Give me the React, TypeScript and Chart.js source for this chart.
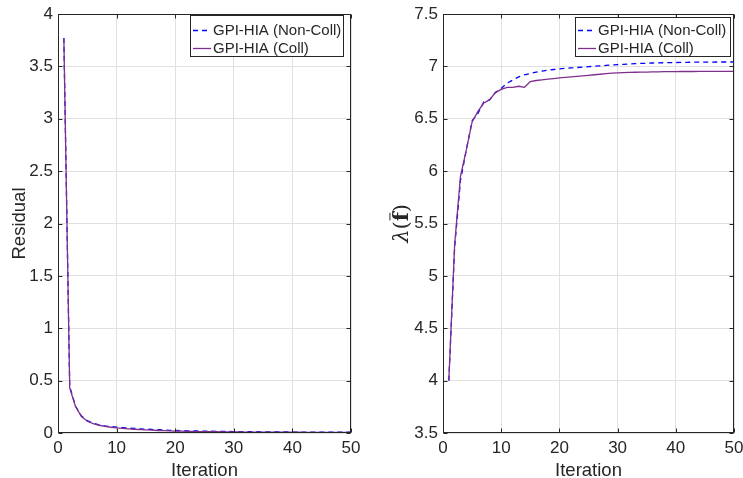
import React, { useEffect, useRef } from "react";
import { Chart, registerables } from "chart.js";

Chart.register(...registerables);

// ---------------- data ----------------
const seriesNames = ["GPI-HIA (Non-Coll)", "GPI-HIA (Coll)"];
const xTicks = [0, 10, 20, 30, 40, 50];
const residualTicks = [0, 0.5, 1, 1.5, 2, 2.5, 3, 3.5, 4];
const lambdaTicks = [3.5, 4, 4.5, 5, 5.5, 6, 6.5, 7, 7.5];

const residualNonColl = [
  3.77, 0.445, 0.255, 0.162, 0.118, 0.093, 0.078, 0.068, 0.061, 0.056,
  0.052, 0.048, 0.044, 0.04, 0.037, 0.034, 0.031, 0.028, 0.026, 0.024,
  0.022, 0.021, 0.02, 0.019, 0.018, 0.017, 0.016, 0.015, 0.015, 0.014,
  0.013, 0.013, 0.012, 0.012, 0.011, 0.011, 0.01, 0.01, 0.01, 0.009,
  0.009, 0.009, 0.008, 0.008, 0.008, 0.008, 0.007, 0.007, 0.007, 0.007,
];
const residualColl = [
  3.77, 0.43, 0.25, 0.158, 0.112, 0.089, 0.074, 0.063, 0.055, 0.048,
  0.044, 0.04, 0.036, 0.033, 0.03, 0.027, 0.024, 0.022, 0.02, 0.018,
  0.017, 0.016, 0.015, 0.014, 0.013, 0.012, 0.012, 0.011, 0.011, 0.01,
  0.01, 0.009, 0.009, 0.009, 0.008, 0.008, 0.008, 0.007, 0.007, 0.007,
  0.007, 0.006, 0.006, 0.006, 0.006, 0.006, 0.005, 0.005, 0.005, 0.005,
];
const lambdaNonColl = [
  4.0, 5.27, 5.91, 6.2, 6.48, 6.55, 6.66, 6.68, 6.75, 6.79,
  6.84, 6.87, 6.9, 6.92, 6.932, 6.945, 6.955, 6.963, 6.97, 6.976,
  6.981, 6.985, 6.989, 6.993, 6.997, 7.001, 7.005, 7.009, 7.013, 7.017,
  7.02, 7.023, 7.026, 7.028, 7.03, 7.032, 7.034, 7.035, 7.036, 7.037,
  7.038, 7.039, 7.04, 7.04, 7.041, 7.041, 7.042, 7.042, 7.042, 7.042,
];
const lambdaColl = [
  4.0, 5.3, 5.95, 6.2, 6.47, 6.57, 6.65, 6.68, 6.75, 6.78,
  6.8, 6.8, 6.81, 6.8, 6.855, 6.865, 6.872, 6.878, 6.884, 6.89,
  6.895, 6.9, 6.905, 6.91, 6.915, 6.92, 6.925, 6.93, 6.935, 6.938,
  6.94, 6.942, 6.944, 6.945, 6.946, 6.947, 6.948, 6.949, 6.95, 6.95,
  6.951, 6.951, 6.951, 6.952, 6.952, 6.952, 6.952, 6.952, 6.952, 6.952,
];

// ---------------- styles ----------------
const FONT = "'Liberation Sans', Arial, Helvetica, sans-serif";
const SERIF = "'DejaVu Serif', 'Liberation Serif', serif";
const INK = "#262626";
const GRID = "#e0e0e0";
const BLUE = "#0000ff";
const PURPLE = "#7e2f8e";
const DASH = [5, 4];
const H = 478;

const toPoints = (vals: number[]) => vals.map((v, i) => ({ x: i + 1, y: v }));

const framePlugin = {
  id: "matlabFrame",
  afterDraw(chart: any, _a: any, opts: any) {
    const ctx = chart.ctx as CanvasRenderingContext2D;
    const { left, right, top, bottom } = chart.chartArea;
    const xs = chart.scales.x;
    const ys = chart.scales.y;
    const L = Math.round(left) + 0.5;
    const R = Math.round(right) - 0.5;
    const T = Math.round(top) + 0.5;
    const B = Math.round(bottom) - 0.5;
    ctx.save();
    ctx.strokeStyle = INK;
    ctx.lineWidth = 1;
    ctx.beginPath();
    const tl = 4;
    xs.ticks.forEach((t: any) => {
      const px = Math.round(xs.getPixelForValue(t.value)) + 0.5;
      ctx.moveTo(px, B);
      ctx.lineTo(px, B - tl);
      ctx.moveTo(px, T);
      ctx.lineTo(px, T + tl);
    });
    ys.ticks.forEach((t: any) => {
      const py = Math.round(ys.getPixelForValue(t.value)) + 0.5;
      ctx.moveTo(L, py);
      ctx.lineTo(L + tl, py);
      ctx.moveTo(R, py);
      ctx.lineTo(R - tl, py);
    });
    ctx.stroke();
    ctx.strokeRect(L, T, R - L, B - T);

    // legend
    const lg = opts.legend;
    ctx.fillStyle = "#ffffff";
    ctx.fillRect(lg.x, lg.y, lg.w, lg.h);
    ctx.strokeStyle = INK;
    ctx.strokeRect(lg.x + 0.5, lg.y + 0.5, lg.w - 1, lg.h - 1);
    const styles = [
      { color: BLUE, dash: DASH, w: 1.3 },
      { color: PURPLE, dash: [] as number[], w: 1.3 },
    ];
    ctx.font = `15px ${FONT}`;
    ctx.textBaseline = "middle";
    ctx.textAlign = "left";
    seriesNames.forEach((name, i) => {
      const ry = lg.y + lg.rows[i];
      ctx.beginPath();
      ctx.strokeStyle = styles[i].color;
      ctx.setLineDash(styles[i].dash);
      ctx.lineWidth = styles[i].w;
      ctx.moveTo(lg.x + 3, ry + 0.5);
      ctx.lineTo(lg.x + 21, ry + 0.5);
      ctx.stroke();
      ctx.setLineDash([]);
      ctx.fillStyle = INK;
      ctx.fillText(name, lg.x + 23, ry + 1);
    });

    // x title
    ctx.fillStyle = INK;
    ctx.font = `18.5px ${FONT}`;
    ctx.textAlign = "center";
    ctx.textBaseline = "alphabetic";
    ctx.fillText("Iteration", (left + right) / 2, 476);

    // y title
    const yc = (top + bottom) / 2;
    ctx.translate(opts.yTitleX, yc);
    ctx.rotate(-Math.PI / 2);
    if (opts.yTitle === "residual") {
      ctx.font = `18.5px ${FONT}`;
      ctx.textAlign = "center";
      ctx.fillText("Residual", 0, 0);
    } else {
      const fs = 21;
      const parts = [
        { t: "λ", f: `italic ${fs}px ${SERIF}` },
        { t: "(", f: `${fs}px ${SERIF}` },
        { t: "f", f: `bold ${fs}px ${SERIF}` },
        { t: ")", f: `${fs}px ${SERIF}` },
      ];
      let total = 0;
      const widths = parts.map((p) => {
        ctx.font = p.f;
        const w = ctx.measureText(p.t).width;
        total += w;
        return w;
      });
      let x = -total / 2;
      ctx.textAlign = "left";
      parts.forEach((p, i) => {
        ctx.font = p.f;
        ctx.fillText(p.t, x, 0);
        if (p.t === "f") {
          ctx.beginPath();
          ctx.strokeStyle = INK;
          ctx.lineWidth = 1;
          ctx.moveTo(x + 1, -fs * 0.86);
          ctx.lineTo(x + widths[i] - 0.5, -fs * 0.86);
          ctx.stroke();
        }
        x += widths[i];
      });
    }
    ctx.restore();
  },
};

type PanelProps = {
  left: number;
  width: number;
  yAxisWidth: number;
  padRight: number;
  yTicks: number[];
  ymin: number;
  ymax: number;
  nonColl: number[];
  coll: number[];
  legend: any;
  yTitle: string;
  yTitleX: number;
};

function Panel(p: PanelProps) {
  const ref = useRef<HTMLCanvasElement | null>(null);
  useEffect(() => {
    if (!ref.current) return;
    const chart = new Chart(ref.current, {
      type: "line",
      data: {
        datasets: [
          {
            label: seriesNames[0],
            data: toPoints(p.nonColl),
            borderColor: BLUE,
            borderWidth: 1.3,
            borderDash: DASH,
            pointRadius: 0,
            tension: 0,
            fill: false,
            order: 1,
          },
          {
            label: seriesNames[1],
            data: toPoints(p.coll),
            borderColor: PURPLE,
            borderWidth: 1.3,
            pointRadius: 0,
            tension: 0,
            fill: false,
            order: 0,
          },
        ],
      },
      options: {
        animation: false,
        responsive: false,
        maintainAspectRatio: false,
        devicePixelRatio: 1,
        events: [],
        layout: { padding: { left: 0, top: 14, right: p.padRight, bottom: 0 } },
        plugins: {
          legend: { display: false },
          tooltip: { enabled: false },
          matlabFrame: { legend: p.legend, yTitle: p.yTitle, yTitleX: p.yTitleX },
        } as any,
        scales: {
          x: {
            type: "linear",
            min: 0,
            max: 50,
            afterBuildTicks: (s: any) => {
              s.ticks = xTicks.map((v) => ({ value: v }));
            },
            afterFit: (s: any) => {
              s.height = 45;
              s.paddingLeft = 0;
              s.paddingRight = 0;
            },
            ticks: {
              callback: (v: any) => String(v),
              font: { family: FONT, size: 17 },
              color: INK,
              padding: 5,
              maxRotation: 0,
              autoSkip: false,
            },
            grid: { color: GRID, drawTicks: false, lineWidth: 1 },
            border: { display: false },
          },
          y: {
            type: "linear",
            min: p.ymin,
            max: p.ymax,
            afterBuildTicks: (s: any) => {
              s.ticks = p.yTicks.map((v) => ({ value: v }));
            },
            afterFit: (s: any) => {
              s.width = p.yAxisWidth;
              s.paddingTop = 0;
              s.paddingBottom = 0;
            },
            ticks: {
              callback: (v: any) => String(v),
              font: { family: FONT, size: 17 },
              color: INK,
              padding: 5,
              autoSkip: false,
            },
            grid: { color: GRID, drawTicks: false, lineWidth: 1 },
            border: { display: false },
          },
        },
      },
      plugins: [framePlugin as any],
    });
    return () => chart.destroy();
  }, []);
  return (
    <canvas
      ref={ref}
      width={p.width}
      height={H}
      style={{ position: "fixed", left: p.left, top: 0, width: p.width, height: H }}
    />
  );
}

export default function App() {
  return (
    <div style={{ position: "fixed", left: 0, top: 0, width: 743, height: H, background: "#fff" }}>
      <Panel
        left={0}
        width={372}
        yAxisWidth={58}
        padRight={372 - 351}
        yTicks={residualTicks}
        ymin={0}
        ymax={4}
        nonColl={residualNonColl}
        coll={residualColl}
        legend={{ x: 190, y: 15, w: 154, h: 42, rows: [15, 33] }}
        yTitle="residual"
        yTitleX={24.5}
      />
      <Panel
        left={372}
        width={371}
        yAxisWidth={71}
        padRight={371 - 362}
        yTicks={lambdaTicks}
        ymin={3.5}
        ymax={7.5}
        nonColl={lambdaNonColl}
        coll={lambdaColl}
        legend={{ x: 575 - 372, y: 17, w: 156, h: 40, rows: [13, 31] }}
        yTitle="lambda"
        yTitleX={408 - 372}
      />
    </div>
  );
}
